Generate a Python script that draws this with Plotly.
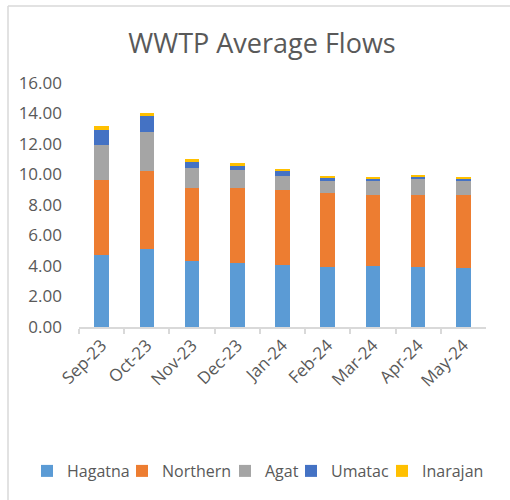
import plotly.graph_objects as go

months = ["Sep-23", "Oct-23", "Nov-23", "Dec-23", "Jan-24", "Feb-24", "Mar-24", "Apr-24", "May-24"]
hagatna = [4.70, 5.10, 4.31, 4.20, 4.05, 3.91, 4.00, 3.91, 3.87]
northern = [4.92, 5.13, 4.83, 4.94, 4.96, 4.88, 4.66, 4.75, 4.79]
agat = [2.34, 2.56, 1.31, 1.16, 0.89, 0.76, 0.89, 1.05, 0.89]
umatac = [0.98, 1.05, 0.42, 0.28, 0.33, 0.27, 0.22, 0.19, 0.22]
inarajan = [0.26, 0.17, 0.13, 0.15, 0.11, 0.08, 0.07, 0.09, 0.07]

names = ["Hagatna", "Northern", "Agat", "Umatac", "Inarajan"]
values = [hagatna, northern, agat, umatac, inarajan]
colors = ["#5B9BD5", "#ED7D31", "#A5A5A5", "#4472C4", "#FFC000"]

FONT = "Open Sans, Segoe UI, Calibri, sans-serif"
GRAY = "#595959"
W, H = 510, 500

# plot area in window pixels (reference)
PX0, PX1, PY_TOP, PY_BOT = 79, 486, 83, 327

legend_ids = ["legend", "legend2", "legend3", "legend4", "legend5"]
legend_square_px = [49, 144, 247, 313, 404]

fig = go.Figure()
for name, vals, color, lid in zip(names, values, colors, legend_ids):
    fig.add_trace(go.Bar(x=months, y=vals, name=name, legend=lid,
                         marker=dict(color=color, line=dict(width=0))))

layout = dict(
    width=W, height=H, autosize=False,
    barmode="stack", bargap=0.68,
    paper_bgcolor="white", plot_bgcolor="white",
    margin=dict(l=0, r=0, t=0, b=0, pad=0),
    font=dict(family=FONT, color=GRAY, size=16),
    title=dict(text="WWTP Average Flows", x=262 / W, xref="paper", xanchor="center",
               y=1 - 44 / H, yref="paper", yanchor="middle",
               font=dict(size=27, color=GRAY, family=FONT)),
    showlegend=True,
    shapes=[
        dict(type="line", xref="paper", yref="paper", x0=8 / W, x1=1.0, y0=1 - 6 / H, y1=1 - 6 / H,
             line=dict(color="#d9d9d9", width=1.5)),
        dict(type="line", xref="paper", yref="paper", x0=8 / W, x1=8 / W, y0=1 - 6 / H, y1=0,
             line=dict(color="#d9d9d9", width=1.5)),
    ],
)
for lid, sq in zip(legend_ids, legend_square_px):
    layout[lid] = dict(orientation="h", x=(sq - 30 + 8) / W, xanchor="left",
                       y=1 - 471 / H, yanchor="middle",
                       font=dict(size=16, color=GRAY), itemwidth=30, bgcolor="rgba(0,0,0,0)")
fig.update_layout(**layout)

fig.update_yaxes(range=[0, 16], dtick=2, tickformat=".2f", showgrid=False, zeroline=False,
                 showline=False, ticks="", ticklabelstandoff=16, automargin=False,
                 domain=[1 - PY_BOT / H, 1 - PY_TOP / H],
                 tickfont=dict(size=17, color=GRAY))
fig.update_xaxes(showline=True, linecolor="#d9d9d9", linewidth=1.5, ticks="outside",
                 tickson="boundaries", ticklen=5, tickcolor="#d9d9d9", tickwidth=1.5,
                 tickangle=-45, showgrid=False, automargin=False,
                 domain=[PX0 / W, PX1 / W],
                 tickfont=dict(size=17, color=GRAY))

fig.write_html("out.html", config={"displayModeBar": False},
               post_script="document.body.style.margin='0';document.body.style.overflow='hidden';")
